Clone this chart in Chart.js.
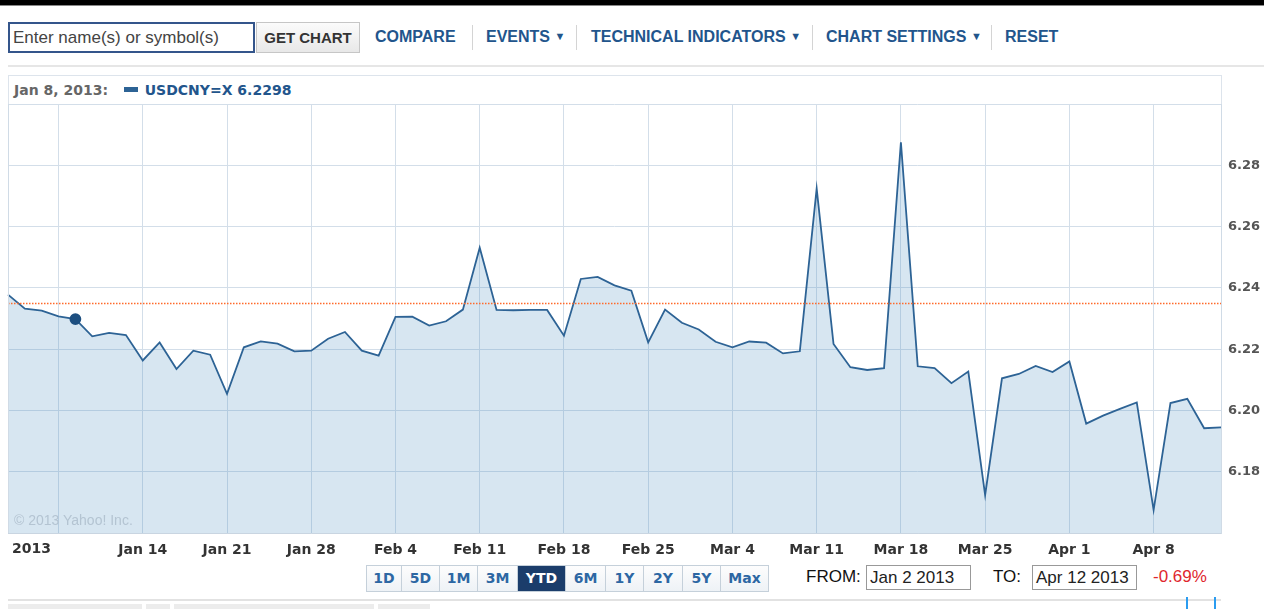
<!DOCTYPE html>
<html>
<head>
<meta charset="utf-8">
<script src="https://cdn.jsdelivr.net/npm/chart.js@4.4.1/dist/chart.umd.min.js"></script>
<style>
  html, body { margin: 0; padding: 0; background: #fff; }
  body { width: 1264px; height: 609px; position: relative; overflow: hidden; font-family: "Liberation Sans", Arial, sans-serif; }
  .abs { position: absolute; }
  .topbar { left: 0; top: 0; width: 1264px; height: 5px; background: #000; border-bottom: 1px solid #888; }
  .search { left: 8px; top: 22px; width: 240px; height: 27px; border: 2px solid #34558b; font-size: 17px; line-height: 27px; color: #444; padding-left: 3px; box-sizing: content-box; white-space: nowrap; }
  .getchart { left: 256px; top: 22px; width: 102px; height: 29px; border: 1px solid #c6c6c6; background: linear-gradient(#fbfbfb, #e8e8e8); font-weight: bold; font-size: 15px; line-height: 29px; text-align: center; color: #333; }
  .lnk { top: 28px; font-weight: bold; font-size: 16px; color: #22558c; white-space: nowrap; }
  .tri { font-size: 11px; position: relative; top: -2px; }
  .sep { top: 25px; width: 1px; height: 25px; background: #d4d4d4; }
  .rule { left: 8px; top: 65px; width: 1256px; height: 2px; background: #e6e6e6; }
  .legendrow { left: 8px; top: 75px; width: 1212px; height: 28px; border: 1px solid #dde4ec; border-bottom: none; font-family: "DejaVu Sans", Verdana, sans-serif; font-weight: bold; font-size: 14px; line-height: 28px; white-space: nowrap; }
  #chart { position: absolute; left: 0; top: 104px; }
  .copy { left: 14px; top: 512px; font-family: "Liberation Sans", Arial, sans-serif; font-size: 14px; color: #b4c4d2; }
  .ranges { left: 366px; top: 565px; height: 25px; display: flex; border: 1px solid #c5d0da; }
  .ranges div { height: 25px; line-height: 25px; text-align: center; font-family: "DejaVu Sans", Verdana, sans-serif; font-weight: bold; font-size: 14px; color: #2d67a3; background: linear-gradient(#fdfdfd, #eef2f6); border-left: 1px solid #c5d0da; box-sizing: border-box; }
  .ranges div:first-child { border-left: none; }
  .ranges div.sel { background: #1b3d6b; color: #fff; }
  .lbl { top: 567px; font-size: 17px; color: #111; }
  .box { top: 565px; height: 23px; border: 1px solid #999; font-size: 17px; line-height: 23px; padding-left: 3px; color: #222; white-space: nowrap; }
  .pct { left: 1153px; top: 567px; font-size: 17px; color: #e0262d; }
  .bottomrule { left: 8px; top: 599px; width: 1213px; height: 2px; background: #e2e2e2; }
  .tab { top: 604px; height: 5px; background: #ececec; }
  .blue { top: 597px; width: 2px; height: 12px; background: #2b9cf0; }
</style>
</head>
<body>
<div class="abs topbar"></div>
<div class="abs search">Enter name(s) or symbol(s)</div>
<div class="abs getchart">GET CHART</div>
<div class="abs lnk" style="left:375px">COMPARE</div>
<div class="abs sep" style="left:472px"></div>
<div class="abs lnk" style="left:486px">EVENTS <span class="tri">&#9660;</span></div>
<div class="abs sep" style="left:576px"></div>
<div class="abs lnk" style="left:591px">TECHNICAL INDICATORS <span class="tri">&#9660;</span></div>
<div class="abs sep" style="left:812px"></div>
<div class="abs lnk" style="left:826px">CHART SETTINGS <span class="tri">&#9660;</span></div>
<div class="abs sep" style="left:991px"></div>
<div class="abs lnk" style="left:1005px">RESET</div>
<div class="abs rule"></div>

<div class="abs legendrow">
  <span style="color:#666; margin-left:5px">Jan 8, 2013:</span>
  <span style="display:inline-block; width:14px; height:5px; background:#2d6395; margin-left:11px; position:relative; top:-3px"></span>
  <span id="legendval" style="color:#22558c; margin-left:2px"></span>
</div>

<canvas id="chart" width="1264" height="459"></canvas>
<div class="abs copy">&copy; 2013 Yahoo! Inc.</div>

<div class="abs ranges">
  <div style="width:34px">1D</div>
  <div style="width:38px">5D</div>
  <div style="width:38px">1M</div>
  <div style="width:40px">3M</div>
  <div class="sel" style="width:48px">YTD</div>
  <div style="width:40px">6M</div>
  <div style="width:38px">1Y</div>
  <div style="width:39px">2Y</div>
  <div style="width:38px">5Y</div>
  <div style="width:48px">Max</div>
</div>
<div class="abs lbl" style="left:806px">FROM:</div>
<div class="abs box" style="left:866px; width:100px">Jan 2 2013</div>
<div class="abs lbl" style="left:993px">TO:</div>
<div class="abs box" style="left:1032px; width:100px">Apr 12 2013</div>
<div class="abs pct">-0.69%</div>
<div class="abs bottomrule"></div>
<div class="abs tab" style="left:8px; width:134px"></div>
<div class="abs tab" style="left:146px; width:24px"></div>
<div class="abs tab" style="left:174px; width:200px"></div>
<div class="abs tab" style="left:378px; width:52px"></div>
<div class="abs blue" style="left:1186px"></div>
<div class="abs blue" style="left:1214px"></div>

<script>
// ===============================
// DATA
// ===============================
const SYMBOL = 'USDCNY=X';

// trading days, Jan 2 - Apr 12 2013
const dates = [
  'Jan 2', 'Jan 3', 'Jan 4',
  'Jan 7', 'Jan 8', 'Jan 9', 'Jan 10', 'Jan 11',
  'Jan 14', 'Jan 15', 'Jan 16', 'Jan 17', 'Jan 18',
  'Jan 21', 'Jan 22', 'Jan 23', 'Jan 24', 'Jan 25',
  'Jan 28', 'Jan 29', 'Jan 30', 'Jan 31', 'Feb 1',
  'Feb 4', 'Feb 5', 'Feb 6', 'Feb 7', 'Feb 8',
  'Feb 11', 'Feb 12', 'Feb 13', 'Feb 14', 'Feb 15',
  'Feb 18', 'Feb 19', 'Feb 20', 'Feb 21', 'Feb 22',
  'Feb 25', 'Feb 26', 'Feb 27', 'Feb 28', 'Mar 1',
  'Mar 4', 'Mar 5', 'Mar 6', 'Mar 7', 'Mar 8',
  'Mar 11', 'Mar 12', 'Mar 13', 'Mar 14', 'Mar 15',
  'Mar 18', 'Mar 19', 'Mar 20', 'Mar 21', 'Mar 22',
  'Mar 25', 'Mar 26', 'Mar 27', 'Mar 28', 'Mar 29',
  'Apr 1', 'Apr 2', 'Apr 3', 'Apr 4', 'Apr 5',
  'Apr 8', 'Apr 9', 'Apr 10', 'Apr 11', 'Apr 12'
];

const rates = [
  6.2378, 6.2332, 6.2326,
  6.2307, 6.2298, 6.2242, 6.2253, 6.2246,
  6.2163, 6.2222, 6.2135, 6.2195, 6.2182,
  6.2054, 6.2206, 6.2225, 6.2218, 6.2193,
  6.2195, 6.2234, 6.2256, 6.2195, 6.2179,
  6.2305, 6.2306, 6.2277, 6.2291, 6.2329,
  6.2531, 6.2328, 6.2327, 6.2328, 6.2328,
  6.2244, 6.2429, 6.2436, 6.2408, 6.2391,
  6.2222, 6.2329, 6.2286, 6.2264, 6.2224,
  6.2206, 6.2225, 6.2221, 6.2186, 6.2193,
  6.2724, 6.2217, 6.2141, 6.2132, 6.2138,
  6.2875, 6.2144, 6.2138, 6.2089, 6.2127,
  6.1724, 6.2105, 6.2119, 6.2145, 6.2125,
  6.2160, 6.1957, 6.1983, 6.2005, 6.2026,
  6.1675, 6.2024, 6.2038, 6.1942, 6.1945
];

// weekly grid (Mondays) and their labels
const weekTicks = ['Jan 7', 'Jan 14', 'Jan 21', 'Jan 28', 'Feb 4', 'Feb 11', 'Feb 18', 'Feb 25', 'Mar 4', 'Mar 11', 'Mar 18', 'Mar 25', 'Apr 1', 'Apr 8'];
const weekLabels = ['', 'Jan 14', 'Jan 21', 'Jan 28', 'Feb 4', 'Feb 11', 'Feb 18', 'Feb 25', 'Mar 4', 'Mar 11', 'Mar 18', 'Mar 25', 'Apr 1', 'Apr 8'];
const yearLabel = '2013';

const yMin = 6.16, yMax = 6.30, yStep = 0.02;
const yLabelled = [6.18, 6.20, 6.22, 6.24, 6.26, 6.28];

const prevClose = 6.2352;
const markedDay = 'Jan 8';

// ===============================
// STYLE
// ===============================
const LINE = '#2d6395';
const GRID = '#d3dee9';
const X_FONT = { family: 'DejaVu Sans', size: 14, weight: 'bold' };
const Y_FONT = { family: 'DejaVu Sans', size: 13, weight: 'bold' };

const markIdx = dates.indexOf(markedDay);
const tickIdx = weekTicks.map(d => dates.indexOf(d));
document.getElementById('legendval').innerText = SYMBOL + ' ' + rates[markIdx].toFixed(4);

// no extra room for edge labels
const noPad = s => { s.paddingTop = 0; s.paddingBottom = 0; s.paddingLeft = 0; s.paddingRight = 0; };

// dotted previous close line
const prevClosePlugin = {
  id: 'prevClose',
  afterDatasetsDraw(chart) {
    const { ctx, chartArea, scales } = chart;
    const y = Math.round(scales.y.getPixelForValue(prevClose)) + 0.5;
    ctx.save();
    ctx.strokeStyle = '#ff6a2a';
    ctx.lineWidth = 1.3;
    ctx.setLineDash([1.5, 1.5]);
    ctx.beginPath();
    ctx.moveTo(chartArea.left, y);
    ctx.lineTo(chartArea.right, y);
    ctx.stroke();
    ctx.restore();
  }
};

// left frame + year label
const framePlugin = {
  id: 'frame',
  afterDraw(chart) {
    const { ctx, chartArea } = chart;
    ctx.save();
    ctx.strokeStyle = '#d0dbe6';
    ctx.lineWidth = 1;
    ctx.beginPath();
    ctx.moveTo(chartArea.left + 0.5, chartArea.top);
    ctx.lineTo(chartArea.left + 0.5, chartArea.bottom);
    ctx.stroke();
    ctx.fillStyle = '#333';
    ctx.font = 'bold 14px "DejaVu Sans"';
    ctx.textBaseline = 'middle';
    ctx.fillText(yearLabel, chartArea.left + 4, chartArea.bottom + 16);
    ctx.restore();
  }
};

const chart = new Chart(document.getElementById('chart').getContext('2d'), {
  type: 'line',
  data: {
    labels: dates,
    datasets: [{
      data: rates,
      borderColor: LINE,
      borderWidth: 1.8,
      backgroundColor: 'rgba(72,140,190,0.22)',
      fill: 'start',
      tension: 0,
      pointRadius: ctx => ctx.dataIndex === markIdx ? 5 : 0,
      pointBackgroundColor: '#1d4f80',
      pointBorderColor: '#1d4f80'
    }]
  },
  options: {
    responsive: false,
    devicePixelRatio: 1,
    animation: false,
    layout: { padding: { left: 8, top: 0, right: 0, bottom: 0 } },
    plugins: { legend: { display: false }, tooltip: { enabled: false } },
    scales: {
      x: {
        type: 'category',
        offset: false,
        afterBuildTicks: s => { s.ticks = tickIdx.map(v => ({ value: v })); },
        afterFit: s => { s.height = 30; noPad(s); },
        grid: { color: GRID, drawTicks: false },
        border: { display: true, color: '#c9d5e1' },
        ticks: {
          autoSkip: false,
          maxRotation: 0,
          padding: 9,
          color: '#333',
          font: X_FONT,
          callback: v => weekLabels[tickIdx.indexOf(v)] || ''
        }
      },
      y: {
        position: 'right',
        min: yMin,
        max: yMax,
        afterFit: s => { s.width = 43; noPad(s); },
        grid: { color: GRID, drawTicks: false },
        border: { display: true, color: '#d0dbe6' },
        ticks: {
          stepSize: yStep,
          padding: 7,
          color: '#555',
          font: Y_FONT,
          callback: v => yLabelled.some(t => Math.abs(t - v) < 1e-6) ? v.toFixed(2) : ''
        }
      }
    }
  },
  plugins: [prevClosePlugin, framePlugin]
});
</script>
</body>
</html>
